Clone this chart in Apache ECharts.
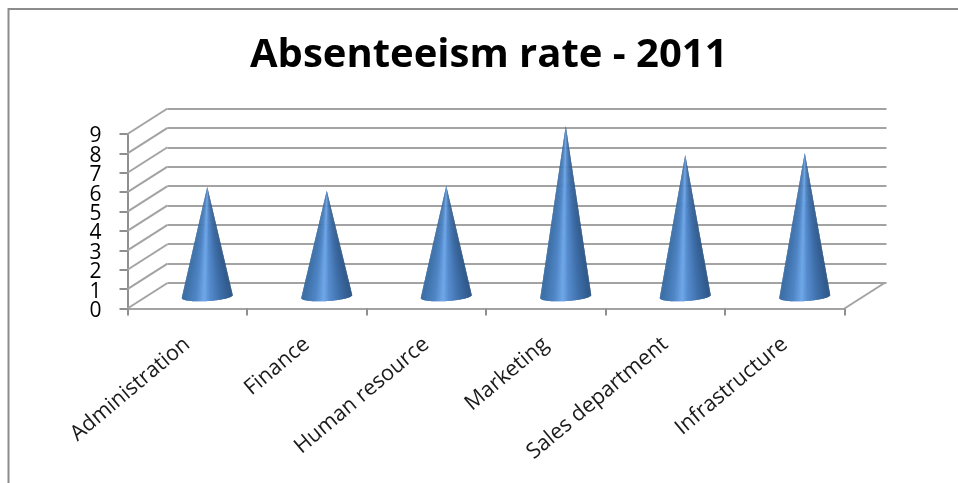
<!DOCTYPE html>
<html><head><meta charset="utf-8">
<style>html,body{margin:0;padding:0;background:#fff}#c{width:958px;height:483px}</style>
<script src="https://cdn.jsdelivr.net/npm/echarts@6/dist/echarts.min.js"></script>
</head><body><div id="c"></div>
<script>
const chartTitle = 'Absenteeism rate - 2011';
const categories = ['Administration','Finance','Human resource','Marketing','Sales department','Infrastructure'];
const absenteeism = [5.65,5.45,5.7,8.8,7.3,7.4];
const yTicks = [0,1,2,3,4,5,6,7,8,9];

const depthX = 40, depthY = -25.5;
const gridLine = '#a3a3a3';
const axisGrey = '#8f8f8f';
const shadeStops = [[-1,[46,86,134]],[-0.55,[62,110,168]],[-0.1,[86,140,206]],[0.12,[112,168,234]],[0.45,[80,134,198]],[1,[58,108,162]]];
function shade(t){
  for(let i=1;i<shadeStops.length;i++){
    const a=shadeStops[i-1],b=shadeStops[i];
    if(t<=b[0]){const k=(t-a[0])/(b[0]-a[0]);
      return 'rgb('+a[1].map((c,j)=>Math.round(c+(b[1][j]-c)*k)).join(',')+')';}
  }
  return '#4c80be';
}
function renderCone(params,api){
  const base=api.coord([api.value(0),0]), tip=api.coord([api.value(0),api.value(1)]);
  const halfW=25.5, ry=4.6, tilt=-0.06, n=48, kids=[];
  const pt=a=>{const x=halfW*Math.cos(a),y=ry*Math.sin(a);return [base[0]+x,base[1]+y+tilt*x];};
  for(let i=0;i<n;i++){
    const a0=Math.PI*i/n,a1=Math.PI*Math.min(i+2,n)/n,col=shade(-Math.cos(Math.PI*(i+0.5)/n));
    const mid=[];for(let k=0;k<=4;k++)mid.push(pt(a0+(a1-a0)*k/4));
    kids.push({type:'polygon',shape:{points:[tip].concat(mid)},style:{fill:col}});
  }
  return {type:'group',children:kids};
}
function renderDepth(params,api){
  const cs=params.coordSys, v=api.value(1), y=api.coord([0,v])[1], x=cs.x;
  const style={stroke:gridLine,lineWidth:2,fill:null};
  const kids=[
    {type:'line',shape:{x1:x,y1:y,x2:x+depthX,y2:y+depthY},style},
    {type:'text',style:{text:String(v),x:x-26,y:y+2.5,align:'right',verticalAlign:'middle',
      fontFamily:'Open Sans',fontSize:21,fill:'#000'}}
  ];
  if(v===0) kids.push({type:'line',shape:{x1:x+cs.width,y1:y,x2:x+cs.width+depthX,y2:y+depthY},style});
  return {type:'group',children:kids};
}
const hiddenX=i=>({type:'category',gridIndex:i,data:categories,show:false});
const chart=echarts.init(document.getElementById('c'),null,{renderer:'canvas'});
chart.setOption({
  animation:false,backgroundColor:'#fff',
  title:{text:chartTitle,left:245,top:31,
    textStyle:{fontFamily:'Open Sans',fontWeight:'bold',fontSize:40,color:'#000'}},
  graphic:[{type:'polyline',silent:true,shape:{points:[[8.5,483],[8.5,9],[958,9]]},style:{stroke:'#8c8c8c',lineWidth:2,fill:null}}],
  grid:[
    {left:127.5,top:134,width:717,height:174.5},
    {left:167.5,top:108.5,width:719,height:174.5},
    {left:147.5,top:122,width:717,height:174.5}
  ],
  xAxis:[
    {type:'category',gridIndex:0,data:categories,
      axisLine:{lineStyle:{color:gridLine,width:2}},
      axisTick:{show:true,length:7,alignWithLabel:false,lineStyle:{color:axisGrey,width:2}},
      axisLabel:{interval:0,rotate:40,margin:33,fontFamily:'Open Sans',fontSize:21.5,color:'#1a1a1a'}},
    hiddenX(1),hiddenX(2)
  ],
  yAxis:[
    {type:'value',gridIndex:0,position:'left',min:0,max:9,interval:1,
      axisLine:{show:true,onZero:false,lineStyle:{color:axisGrey,width:2}},
      axisTick:{show:true,length:8,lineStyle:{color:axisGrey,width:2}},
      axisLabel:{show:false},
      splitLine:{show:false}},
    {type:'value',gridIndex:1,min:0,max:9,interval:1,
      axisLine:{show:false},axisTick:{show:false},axisLabel:{show:false},
      splitLine:{show:true,lineStyle:{color:gridLine,width:2}}},
    {type:'value',gridIndex:2,min:0,max:9,interval:1,show:false,splitLine:{show:false}}
  ],
  series:[
    {type:'custom',name:'depth',xAxisIndex:0,yAxisIndex:0,renderItem:renderDepth,clip:false,silent:true,z:1,
      data:yTicks.map(v=>[0,v]),encode:{x:0,y:1}},
    {type:'custom',name:'Absenteeism',xAxisIndex:2,yAxisIndex:2,renderItem:renderCone,clip:false,z:5,
      data:absenteeism.map((v,i)=>[i,v]),encode:{x:0,y:1}}
  ]
});
</script></body></html>
